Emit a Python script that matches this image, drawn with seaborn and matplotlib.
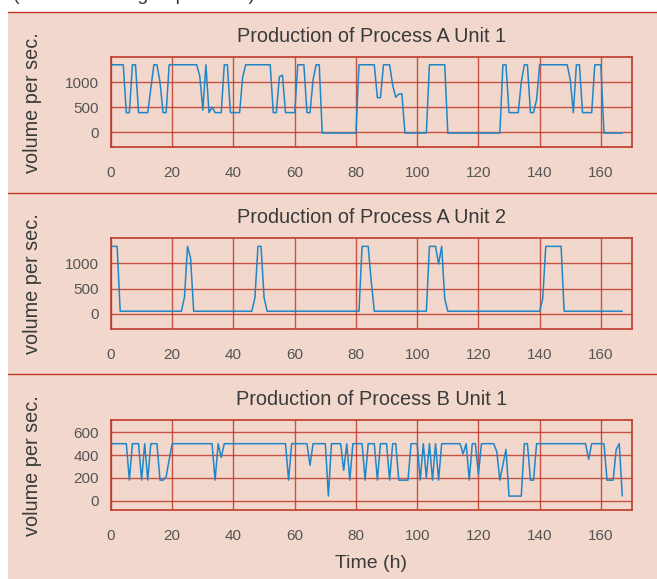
import matplotlib
matplotlib.use("Agg")
import matplotlib.pyplot as plt
import numpy as np
import pandas as pd
import seaborn as sns
from matplotlib.patches import Rectangle
from matplotlib.lines import Line2D

# ---------------- data ----------------
hours = list(range(168))

titles = ["Production of Process A Unit 1",
          "Production of Process A Unit 2",
          "Production of Process B Unit 1"]

x_ticks = [0, 20, 40, 60, 80, 100, 120, 140, 160]
y_ticks_a = [0, 500, 1000]
y_ticks_b = [0, 200, 400, 600]

process_a_unit1 = [
    1350, 1350, 1350, 1350, 1350, 390, 390, 1350, 1350, 390,
    390, 390, 390, 870, 1350, 1350, 1000, 390, 390, 1350,
    1350, 1350, 1350, 1350, 1350, 1350, 1350, 1350, 1350, 1120,
    440, 1350, 390, 500, 390, 390, 390, 1350, 1350, 390,
    390, 390, 390, 1100, 1350, 1350, 1350, 1350, 1350, 1350,
    1350, 1350, 1350, 390, 390, 1110, 1140, 390, 390, 390,
    390, 1350, 1350, 1350, 390, 390, 1050, 1350, 1350, -20,
    -20, -20, -20, -20, -20, -20, -20, -20, -20, -20,
    -20, 1350, 1350, 1350, 1350, 1350, 1350, 690, 690, 1350,
    1350, 1350, 940, 700, 760, 770, -20, -20, -20, -20,
    -20, -20, -20, -20, 1350, 1350, 1350, 1350, 1350, 1350,
    -20, -20, -20, -20, -20, -20, -20, -20, -20, -20,
    -20, -20, -20, -20, -20, -20, -20, -20, 1350, 1350,
    390, 390, 390, 390, 1000, 1350, 1350, 390, 390, 650,
    1350, 1350, 1350, 1350, 1350, 1350, 1350, 1350, 1350, 1350,
    1050, 390, 1350, 1350, 390, 390, 390, 390, 1350, 1350,
    1350, -20, -20, -20, -20, -20, -20, -20,
]

process_a_unit2 = [
    1340, 1340, 1340, 53, 53, 53, 53, 53, 53, 53,
    53, 53, 53, 53, 53, 53, 53, 53, 53, 53,
    53, 53, 53, 53, 330, 1340, 1100, 53, 53, 53,
    53, 53, 53, 53, 53, 53, 53, 53, 53, 53,
    53, 53, 53, 53, 53, 53, 53, 320, 1340, 1340,
    320, 53, 53, 53, 53, 53, 53, 53, 53, 53,
    53, 53, 53, 53, 53, 53, 53, 53, 53, 53,
    53, 53, 53, 53, 53, 53, 53, 53, 53, 53,
    53, 53, 1340, 1340, 1340, 650, 53, 53, 53, 53,
    53, 53, 53, 53, 53, 53, 53, 53, 53, 53,
    53, 53, 53, 53, 1340, 1340, 1340, 990, 1340, 300,
    53, 53, 53, 53, 53, 53, 53, 53, 53, 53,
    53, 53, 53, 53, 53, 53, 53, 53, 53, 53,
    53, 53, 53, 53, 53, 53, 53, 53, 53, 53,
    53, 300, 1340, 1340, 1340, 1340, 1340, 1340, 53, 53,
    53, 53, 53, 53, 53, 53, 53, 53, 53, 53,
    53, 53, 53, 53, 53, 53, 53, 53,
]

process_b_unit1 = [
    500, 500, 500, 500, 500, 500, 180, 500, 500, 500,
    180, 500, 180, 500, 500, 500, 180, 180, 210, 360,
    500, 500, 500, 500, 500, 500, 500, 500, 500, 500,
    500, 500, 500, 500, 180, 500, 380, 500, 500, 500,
    500, 500, 500, 500, 500, 500, 500, 500, 500, 500,
    500, 500, 500, 500, 500, 500, 500, 500, 180, 500,
    500, 500, 500, 500, 500, 310, 500, 500, 500, 500,
    500, 40, 500, 500, 500, 500, 265, 500, 180, 500,
    500, 500, 500, 180, 500, 500, 500, 180, 500, 500,
    500, 180, 500, 500, 180, 180, 180, 180, 500, 500,
    500, 180, 500, 200, 500, 180, 500, 180, 500, 500,
    500, 500, 500, 500, 500, 410, 500, 180, 500, 500,
    230, 500, 500, 500, 500, 500, 430, 180, 315, 450,
    40, 40, 40, 40, 40, 500, 500, 180, 180, 500,
    500, 500, 500, 500, 500, 500, 500, 500, 500, 500,
    500, 500, 500, 500, 500, 500, 363, 500, 500, 500,
    500, 500, 180, 180, 180, 450, 500, 40,
]

# ---------------- style ----------------
PEACH = "#f2d8cc"
RED = "#c0392b"
BLUE = "#1f86c8"
TXT = "#3a3a3a"
TICK = "#555555"

sns.set_theme(style="white")
plt.rcParams['font.family'] = ['Liberation Sans', 'DejaVu Sans']

W, H = 657, 579
fig = plt.figure(figsize=(W / 100, H / 100), dpi=100, facecolor="white")

fig.patches.append(Rectangle((8 / W, 0), 1 - 8 / W, 1 - 12 / H,
                             transform=fig.transFigure, facecolor=PEACH,
                             edgecolor="none", zorder=-10))
for ypx in [12, 193, 374]:
    fig.lines.append(Line2D([8 / W, 1], [1 - ypx / H] * 2,
                            transform=fig.transFigure, color=RED, lw=1.0))

# partially clipped caption at the very top
fig.text(13 / W, 1 - 0.5 / H, "(volume averaged per hour)", fontsize=14,
         color=TXT, va="baseline", ha="left")

series = [process_a_unit1, process_a_unit2, process_b_unit1]
ylims = [(-300, 1500), (-300, 1500), (-85, 708)]
yticks = [y_ticks_a, y_ticks_a, y_ticks_b]
boxes = [(57.3, 147.0), (238.3, 329.0), (420.0, 510.3)]

for i in range(3):
    top, bot = boxes[i]
    ax = fig.add_axes([111 / W, 1 - bot / H, 520.5 / W, (bot - top) / H])
    ax.set_facecolor("none")
    df = pd.DataFrame({"Time (h)": hours, "value": series[i]})
    sns.lineplot(data=df, x="Time (h)", y="value", ax=ax, color=BLUE,
                 lw=1.1, zorder=3)
    ax.set_xlim(0, 170)
    ax.set_ylim(*ylims[i])
    ax.set_xticks(x_ticks)
    ax.set_yticks(yticks[i])
    ax.grid(True, color=RED, lw=1.0, alpha=0.85)
    ax.set_axisbelow(True)
    for s in ax.spines.values():
        s.set_color(RED)
        s.set_linewidth(1.2)
        s.set_visible(True)
    ax.tick_params(axis="both", length=0, labelsize=11, colors=TICK)
    ax.tick_params(axis="x", pad=13.5)
    ax.tick_params(axis="y", pad=8.5)
    ax.set_title(titles[i], fontsize=14.3, color=TXT, pad=11)
    ax.set_ylabel("volume per sec.", fontsize=14.3, color=TXT)
    ax.yaxis.set_label_coords(-0.133, 0.5)
    if i == 2:
        ax.set_xlabel("Time (h)", fontsize=14, color=TXT)
        ax.xaxis.set_label_coords(0.5, -0.49)
    else:
        ax.set_xlabel("")

fig.savefig("out.png", dpi=100, facecolor="white")
